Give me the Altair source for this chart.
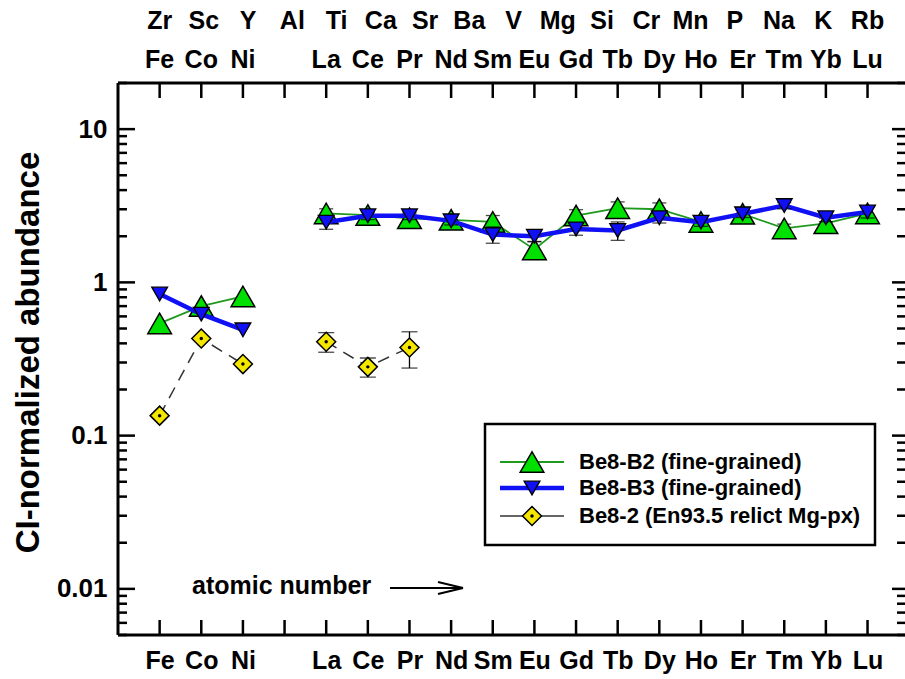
import json
import altair as alt
import pandas as pd

# Element slots along the abscissa (slot 3 is an empty gap)
lower_labels = ["Fe", "Co", "Ni", "", "La", "Ce", "Pr", "Nd", "Sm", "Eu",
                "Gd", "Tb", "Dy", "Ho", "Er", "Tm", "Yb", "Lu"]
upper_labels = ["Zr", "Sc", "Y", "Al", "Ti", "Ca", "Sr", "Ba", "V", "Mg",
                "Si", "Cr", "Mn", "P", "Na", "K", "Rb"]

# CI-normalized abundances and 1-sigma uncertainties
b2_vals = [0.54, 0.70, 0.81, None, 2.82, 2.75, 2.62, 2.56, 2.48, 1.64,
           2.73, 3.05, 3.00, 2.48, 2.80, 2.25, 2.43, 2.82]
b2_errs = [None, None, None, None, 0.20, 0.18, 0.18, 0.15, 0.25, 0.20,
           0.25, 0.30, 0.30, 0.15, 0.20, 0.15, 0.20, 0.30]
b3_vals = [0.84, 0.62, 0.49, None, 2.47, 2.72, 2.72, 2.52, 2.05, 2.00,
           2.23, 2.18, 2.64, 2.47, 2.80, 3.17, 2.64, 2.88]
b3_errs = [None, None, None, None, 0.25, 0.15, 0.15, 0.15, 0.25, 0.15,
           0.20, 0.30, 0.20, 0.15, 0.15, 0.15, 0.15, 0.25]
px_vals = [0.135, 0.43, 0.293, None, 0.41, 0.281, 0.376]
px_errs = [None, None, None, None, 0.06, 0.04, 0.10]

series_names = ["Be8-B2 (fine-grained)", "Be8-B3 (fine-grained)",
                "Be8-2 (En93.5 relict Mg-px)"]

FONT = "Liberation Sans"
W, H = 787, 552
GREEN_LINE, GREEN_FILL = "#1f9a1f", "#00e000"
BLUE = "#1010f5"
YELLOW = "#f5e600"


def frame(vals, errs):
    rows = []
    for i, v in enumerate(vals):
        if v is None:
            continue
        e = errs[i] if i < len(errs) else None
        rows.append({"slot": i, "value": v,
                     "lo": v - e if e else None,
                     "hi": v + e if e else None,
                     "segment": "metal" if i < 3 else "ree"})
    return pd.DataFrame(rows)


xscale = alt.Scale(domain=[-1.0, 17.9], nice=False, zero=False)
yscale = alt.Scale(type="log", domain=[0.005, 20], nice=False)

x_axis = alt.Axis(
    orient="bottom", values=[i for i, s in enumerate(lower_labels) if s],
    labelExpr=json.dumps(lower_labels) + "[datum.value]",
    domain=False, ticks=False, grid=False, title=None,
    labelFont=FONT, labelFontSize=25, labelFontWeight="bold",
    labelColor="black", labelPadding=13,
)
y_axis = alt.Axis(
    orient="left", values=[0.01, 0.1, 1, 10], format="~g",
    domain=False, ticks=False, grid=False,
    labelFont=FONT, labelFontSize=26, labelFontWeight="bold",
    labelColor="black", labelPadding=11,
    title="CI-normalized abundance", titleFont=FONT, titleFontSize=33,
    titleFontWeight="bold", titleColor="black", titleAngle=270,
    titleX=-90, titleY=269, titleAlign="center", titleBaseline="middle",
)


def X(field="slot"):
    return alt.X(f"{field}:Q", scale=xscale, axis=x_axis)


def Y(field="value"):
    return alt.Y(f"{field}:Q", scale=yscale, axis=y_axis)


one = alt.Data(values=[{}])


def series_layers(df, line_kw, point_kw, cap):
    err = df.dropna(subset=["lo"])
    layers = [
        alt.Chart(df).mark_line(**line_kw).encode(x=X(), y=Y(), detail="segment:N"),
    ]
    if len(err):
        layers += [
            alt.Chart(err).mark_rule(color="black", strokeWidth=1.3).encode(
                x=X(), y=Y("lo"), y2="hi:Q"),
            alt.Chart(err).mark_tick(color="black", thickness=1.3, size=cap,
                                     orient="horizontal").encode(x=X(), y=Y("lo")),
            alt.Chart(err).mark_tick(color="black", thickness=1.3, size=cap,
                                     orient="horizontal").encode(x=X(), y=Y("hi")),
        ]
    layers.append(alt.Chart(df).mark_point(**point_kw).encode(x=X(), y=Y()))
    return layers


b2 = frame(b2_vals, b2_errs)
b3 = frame(b3_vals, b3_errs)
px = frame(px_vals, px_errs)

green_line = dict(color=GREEN_LINE, strokeWidth=1.8)
green_pt = dict(shape="triangle-up", filled=True, fill=GREEN_FILL, stroke="black",
                strokeWidth=1.5, size=560, opacity=1)
blue_line = dict(color=BLUE, strokeWidth=4.5)
blue_pt = dict(shape="triangle-down", filled=True, fill=BLUE, stroke="black",
               strokeWidth=1.3, size=250, opacity=1)
px_line = dict(color="#333333", strokeWidth=1.5, strokeDash=[12, 8])
px_pt = dict(shape="diamond", filled=True, fill=YELLOW, stroke="black",
             strokeWidth=1.5, size=360, opacity=1)
dot = dict(shape="circle", filled=True, color="black", size=12, opacity=1)

layers = []
layers += series_layers(b2, green_line, green_pt, 14)
layers += series_layers(b3, blue_line, blue_pt, 14)
layers += series_layers(px, px_line, px_pt, 16)
layers.append(alt.Chart(px).mark_point(**dot).encode(x=X(), y=Y()))

# Frame: left, bottom and top axis lines
frame_lines = [
    dict(x=alt.value(0), x2=alt.value(0), y=alt.value(0), y2=alt.value(H)),
    dict(x=alt.value(0), x2=alt.value(W), y=alt.value(H), y2=alt.value(H)),
    dict(x=alt.value(0), x2=alt.value(W), y=alt.value(0), y2=alt.value(0)),
]
for enc in frame_lines:
    layers.append(alt.Chart(one).mark_rule(color="black", strokeWidth=3).encode(**enc))

# Inward ticks on all four sides
major = [0.01, 0.1, 1, 10]
minor = [round(k * 10 ** d, 6) for d in range(-3, 2) for k in range(2, 10)
         if 0.005 <= k * 10 ** d <= 20]
tick_major = pd.DataFrame({"v": major})
tick_minor = pd.DataFrame({"v": minor})
tick_slots = pd.DataFrame({"slot": list(range(len(lower_labels)))})
tw = 2.5
layers += [
    alt.Chart(tick_major).mark_rule(color="black", strokeWidth=tw).encode(
        y=Y("v"), x=alt.value(0), x2=alt.value(17)),
    alt.Chart(tick_minor).mark_rule(color="black", strokeWidth=tw).encode(
        y=Y("v"), x=alt.value(0), x2=alt.value(9)),
    alt.Chart(tick_major).mark_rule(color="black", strokeWidth=tw).encode(
        y=Y("v"), x=alt.value(W - 13), x2=alt.value(W)),
    alt.Chart(tick_minor).mark_rule(color="black", strokeWidth=tw).encode(
        y=Y("v"), x=alt.value(W - 8), x2=alt.value(W)),
    alt.Chart(tick_slots).mark_rule(color="black", strokeWidth=tw).encode(
        x=X(), y=alt.value(H - 15), y2=alt.value(H)),
    alt.Chart(tick_slots).mark_rule(color="black", strokeWidth=tw).encode(
        x=X(), y=alt.value(0), y2=alt.value(15)),
]

# Two rows of element names above the frame
top_lower = pd.DataFrame({"slot": [i for i, s in enumerate(lower_labels) if s],
                          "name": [s for s in lower_labels if s]})
n_up = len(upper_labels)
top_upper = pd.DataFrame({"slot": [i * 17 / (n_up - 1) for i in range(n_up)],
                          "name": upper_labels})
txt = dict(font=FONT, fontSize=25, fontWeight="bold", color="black",
           align="center", baseline="middle")
layers += [
    alt.Chart(top_lower).mark_text(**txt).encode(x=X(), y=alt.value(-23), text="name:N"),
    alt.Chart(top_upper).mark_text(**txt).encode(x=X(), y=alt.value(-62), text="name:N"),
]

# "atomic number" caption with arrow
layers += [
    alt.Chart(one).mark_text(text="atomic number", font=FONT, fontSize=25,
                             fontWeight="bold", color="black", align="left",
                             baseline="middle").encode(x=alt.value(74), y=alt.value(503)),
    alt.Chart(one).mark_rule(color="black", strokeWidth=2).encode(
        x=alt.value(272), x2=alt.value(345), y=alt.value(505), y2=alt.value(505)),
    alt.Chart(one).mark_rule(color="black", strokeWidth=2).encode(
        x=alt.value(320), x2=alt.value(345), y=alt.value(499), y2=alt.value(505)),
    alt.Chart(one).mark_rule(color="black", strokeWidth=2).encode(
        x=alt.value(320), x2=alt.value(345), y=alt.value(511), y2=alt.value(505)),
]

# Legend box
LX0, LX1, LY0, LY1 = 367, 757, 341, 462
layers.append(alt.Chart(one).mark_rect(fill="white", stroke="black", strokeWidth=2.5).encode(
    x=alt.value(LX0), x2=alt.value(LX1), y=alt.value(LY0), y2=alt.value(LY1)))
entry_y = [379, 405, 433]
line_styles = [green_line, blue_line, dict(color="#333333", strokeWidth=1.5)]
point_styles = [green_pt, blue_pt, px_pt]
for ey, name, lk, pk in zip(entry_y, series_names, line_styles, point_styles):
    lk = {k: v for k, v in lk.items() if k != "strokeDash"}
    layers += [
        alt.Chart(one).mark_rule(**lk).encode(
            x=alt.value(382), x2=alt.value(446), y=alt.value(ey), y2=alt.value(ey)),
        alt.Chart(one).mark_point(**pk).encode(x=alt.value(414), y=alt.value(ey)),
        alt.Chart(one).mark_text(text=name, font=FONT, fontSize=22, fontWeight="bold",
                                 color="black", align="left", baseline="middle").encode(
            x=alt.value(461), y=alt.value(ey)),
    ]
layers.append(alt.Chart(one).mark_point(**dot).encode(x=alt.value(414), y=alt.value(entry_y[2])))

chart = alt.layer(*layers).properties(
    width=W, height=H,
    autosize=alt.AutoSizeParams(type="none"),
    padding={"left": 118, "top": 83, "right": 0, "bottom": 44},
    background="white",
).configure_view(stroke=None)

chart.save("out.html", embed_options={"renderer": "svg", "actions": False})
